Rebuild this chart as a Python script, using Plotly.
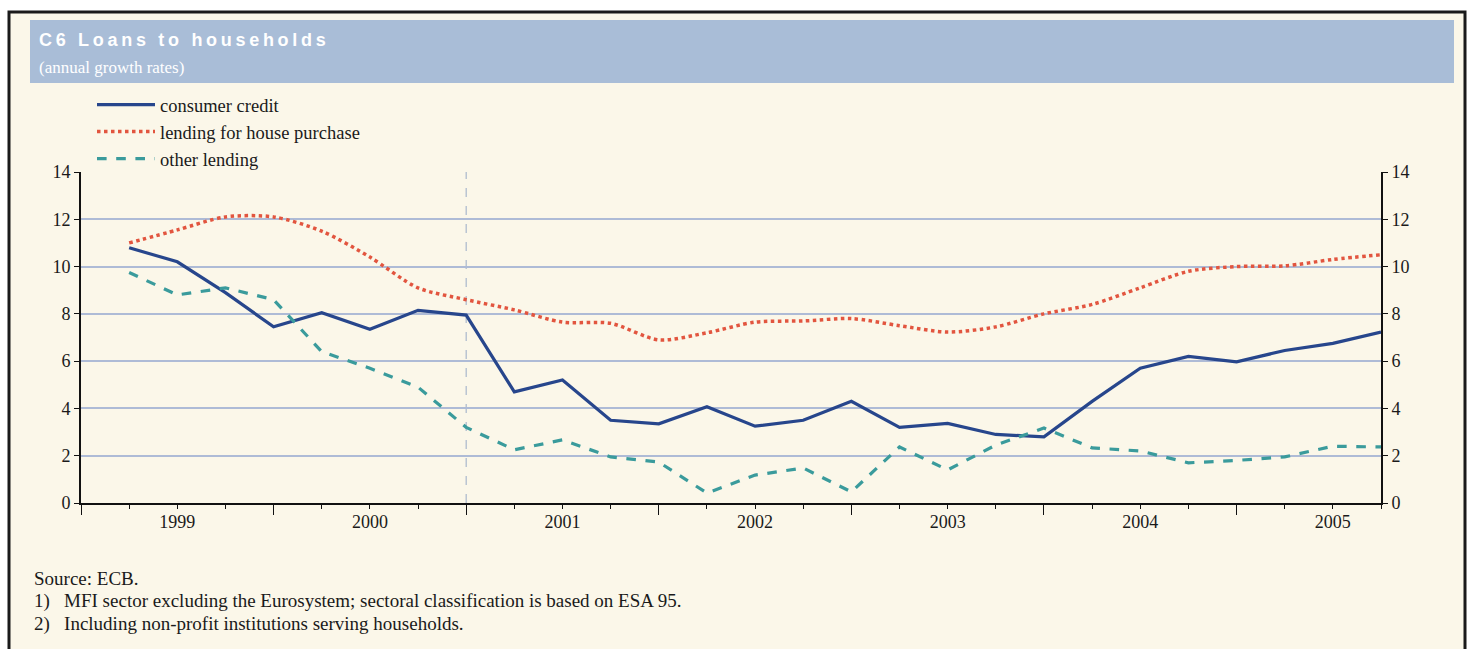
import plotly.graph_objects as go

# ---------------- data ----------------
quarters = ["1999Q1", "1999Q2", "1999Q3", "1999Q4",
            "2000Q1", "2000Q2", "2000Q3", "2000Q4",
            "2001Q1", "2001Q2", "2001Q3", "2001Q4",
            "2002Q1", "2002Q2", "2002Q3", "2002Q4",
            "2003Q1", "2003Q2", "2003Q3", "2003Q4",
            "2004Q1", "2004Q2", "2004Q3", "2004Q4",
            "2005Q1", "2005Q2", "2005Q3"]

consumer_credit = [10.8, 10.2, 8.9, 7.45, 8.05, 7.35, 8.15, 7.95,
                   4.7, 5.2, 3.5, 3.35, 4.07, 3.25, 3.5, 4.3,
                   3.2, 3.37, 2.9, 2.8, 4.3, 5.7, 6.2, 5.97,
                   6.45, 6.75, 7.23]

house_purchase = [11.0, 11.55, 12.1, 12.1, 11.5, 10.4, 9.1, 8.6,
                  8.17, 7.65, 7.6, 6.9, 7.2, 7.65, 7.7, 7.8,
                  7.5, 7.23, 7.45, 8.0, 8.4, 9.1, 9.8, 10.0,
                  10.03, 10.3, 10.5]

other_lending = [9.75, 8.8, 9.1, 8.6, 6.4, 5.7, 4.9, 3.2,
                 2.25, 2.67, 1.95, 1.73, 0.42, 1.18, 1.48, 0.47,
                 2.37, 1.4, 2.45, 3.17, 2.33, 2.2, 1.7, 1.8,
                 1.95, 2.4, 2.37]

years = ["1999", "2000", "2001", "2002", "2003", "2004", "2005"]
y_ticks = [0, 2, 4, 6, 8, 10, 12, 14]
break_quarter = "2000Q4"

title_text = "C6 Loans to households"
subtitle_text = "(annual growth rates)"
footnotes = ["Source: ECB.",
             "1)\u00a0\u00a0\u00a0MFI sector excluding the Eurosystem; sectoral classification is based on ESA 95.",
             "2)\u00a0\u00a0\u00a0Including non-profit institutions serving households."]

# ---------------- positions ----------------
x_pos = [i + 1 for i in range(len(quarters))]          # quarter-end positions
year_centers = [4 * i + 2 for i in range(len(years))]
year_bounds = [4 * i for i in range(len(years))]
break_x = quarters.index(break_quarter) + 1

W, H = 1468, 649
L, R, T, B = 81, 1381, 172, 503


def px(x):
    return (x - L) / (R - L)


def py(y):
    return (B - y) / (B - T)


SERIF = "Liberation Serif"
INK = "#1a1a1a"
CREAM = "#fbf7e9"

fig = go.Figure()
fig.add_trace(go.Scatter(x=x_pos, y=consumer_credit, name="consumer credit",
                         mode="lines", line=dict(color="#27468c", width=3.2),
                         legendgroup="a"))
fig.add_trace(go.Scatter(x=x_pos, y=house_purchase, name="lending for house purchase",
                         mode="lines", line=dict(color="#e2553f", width=3.5, dash="dot",
                                                 shape="spline", smoothing=0.8),
                         legendgroup="b", yaxis="y2"))
fig.add_trace(go.Scatter(x=x_pos, y=other_lending, name="other lending",
                         mode="lines", line=dict(color="#3a9b9c", width=3.2, dash="dash"),
                         legendgroup="c"))

shapes = [
    # cream panel with black frame
    dict(type="rect", xref="paper", yref="paper", x0=px(9), x1=px(1465), y0=py(680), y1=py(12),
         line=dict(color="#1a1a1a", width=3), fillcolor=CREAM, layer="below"),
    # title band
    dict(type="rect", xref="paper", yref="paper", x0=px(30), x1=px(1454), y0=py(83), y1=py(20),
         line=dict(width=0), fillcolor="#a9bdd7", layer="below"),
    # break line
    dict(type="line", xref="x", yref="y", x0=break_x, x1=break_x, y0=0, y1=14,
         line=dict(color="#a9b7cc", width=1.2, dash="dash"), layer="below"),
]

annotations = [
    dict(text='<span style="letter-spacing:3.7px"><b>' + title_text + '</b></span>',
         xref="paper", yref="paper", x=px(37), y=py(40), xanchor="left", yanchor="middle",
         showarrow=False, font=dict(family="Liberation Sans", size=18, color="white")),
    dict(text=subtitle_text, xref="paper", yref="paper", x=px(37), y=py(68),
         xanchor="left", yanchor="middle", showarrow=False,
         font=dict(family=SERIF, size=17, color="white")),
]
for i, t in enumerate(footnotes):
    annotations.append(dict(text=t, xref="paper", yref="paper", x=px(32), y=py(578 + 23 * i),
                            xanchor="left", yanchor="middle", showarrow=False,
                            font=dict(family=SERIF, size=19, color=INK)))

fig.update_layout(
    width=W, height=H,
    margin=dict(l=L, r=W - R, t=T, b=H - B, pad=0),
    paper_bgcolor="white", plot_bgcolor=CREAM,
    showlegend=True,
    legend=dict(x=px(92), y=py(86), xanchor="left", yanchor="top",
                bgcolor="rgba(0,0,0,0)", font=dict(family=SERIF, size=18.5, color=INK),
                tracegroupgap=0, itemwidth=58),
    shapes=shapes, annotations=annotations,
    xaxis=dict(range=[0, 27], tickvals=year_centers, ticktext=years, ticks="",
               showgrid=False, zeroline=False, showline=True, linecolor="#111", linewidth=2,
               tickfont=dict(family=SERIF, size=18, color=INK), ticklabelstandoff=1),
    xaxis2=dict(range=[0, 27], overlaying="x", anchor="y", side="bottom",
                tickvals=year_bounds, ticks="outside", ticklen=11, tickwidth=1.3,
                tickcolor="#111", showticklabels=False, showgrid=False, zeroline=False,
                minor=dict(dtick=1, tick0=0, ticks="outside", ticklen=5, tickwidth=1.2,
                           tickcolor="#111", showgrid=False)),
    yaxis=dict(range=[0, 14], tickvals=y_ticks, ticks="outside", ticklen=5, tickcolor="#111",
               showgrid=True, gridcolor="#aebbd6", gridwidth=1.6, zeroline=False,
               showline=True, linecolor="#111", linewidth=2,
               tickfont=dict(family=SERIF, size=18, color=INK)),
    yaxis2=dict(range=[0, 14], overlaying="y", side="right", tickvals=y_ticks,
                ticks="outside", ticklen=5, tickcolor="#111", showgrid=False, zeroline=False,
                showline=True, linecolor="#111", linewidth=2,
                tickfont=dict(family=SERIF, size=18, color=INK)),
)
# dummy trace to ensure xaxis2 renders
fig.add_trace(go.Scatter(x=[x_pos[0]], y=[None], xaxis="x2", showlegend=False,
                         hoverinfo="skip", mode="lines"))

fig.write_html("out.html")
